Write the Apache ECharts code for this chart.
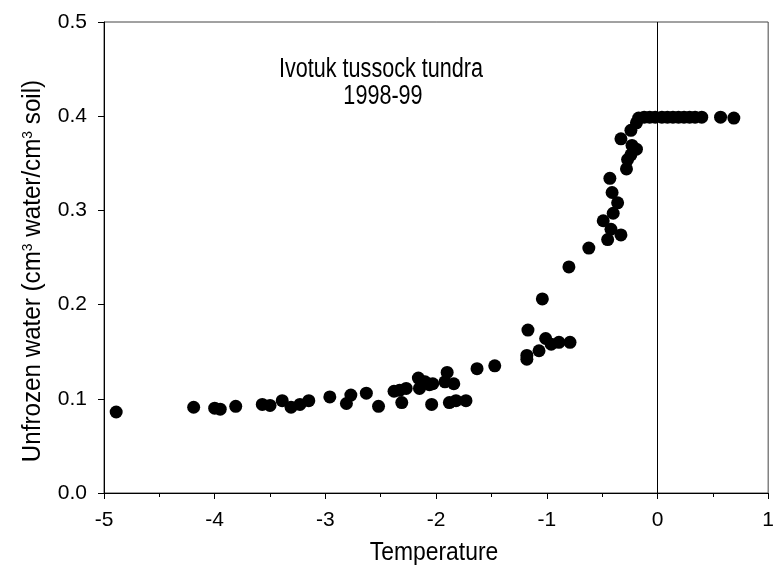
<!DOCTYPE html>
<html>
<head>
<meta charset="utf-8">
<script src="https://cdn.jsdelivr.net/npm/echarts@6/dist/echarts.min.js"></script>
<style>html,body{margin:0;padding:0;background:#fff}#chart{width:777px;height:571px}</style>
</head>
<body>
<div id="chart"></div>
<script>
// Soil temperature (°C)
const temperature = [
  -4.89, -4.19, -4.00, -3.95, -3.81, -3.57, -3.50, -3.39, -3.31, -3.23,
  -3.15, -2.96, -2.81, -2.77, -2.63, -2.52, -2.38, -2.33, -2.27, -2.31,
  -2.16, -2.15, -2.10, -2.06, -2.03, -2.04, -1.90, -1.92, -1.84, -1.88,
  -1.82, -1.73, -1.63, -1.47, -1.18, -1.18, -1.17, -1.07, -1.04, -1.01,
  -0.96, -0.89, -0.79, -0.80, -0.62, -0.49, -0.45, -0.42, -0.33, -0.40,
  -0.36, -0.41, -0.43, -0.28, -0.27, -0.24, -0.19, -0.23, -0.33, -0.24,
  -0.19, -0.17, -0.12, -0.07, -0.02, 0.04, 0.09, 0.14, 0.19, 0.24,
  0.29, 0.34, 0.40, 0.57, 0.69
];
// Unfrozen water (cm3 water / cm3 soil)
const unfrozenWater = [
  0.086, 0.091, 0.090, 0.089, 0.092, 0.094, 0.093, 0.098, 0.091, 0.094,
  0.098, 0.102, 0.095, 0.104, 0.106, 0.092, 0.108, 0.109, 0.111, 0.096,
  0.122, 0.111, 0.118, 0.115, 0.116, 0.094, 0.128, 0.118, 0.116, 0.096,
  0.098, 0.098, 0.132, 0.135, 0.146, 0.142, 0.173, 0.151, 0.206, 0.164,
  0.158, 0.160, 0.160, 0.240, 0.260, 0.289, 0.269, 0.280, 0.274, 0.297,
  0.308, 0.319, 0.334, 0.344, 0.354, 0.359, 0.365, 0.369, 0.376, 0.385,
  0.393, 0.398, 0.399, 0.399, 0.399, 0.399, 0.399, 0.399, 0.399, 0.399,
  0.399, 0.399, 0.399, 0.399, 0.398
];
const titleLines = ['Ivotuk tussock tundra', '1998-99'];
const xName = 'Temperature';
const yNameRich = 'Unfrozen water (cm{sup|3} water/cm{sup|3} soil)';

const FONT = '"Liberation Sans", Arial, Helvetica, sans-serif';
const points = temperature.map((t, i) => [t, unfrozenWater[i]]);

const chart = echarts.init(document.getElementById('chart'), null, {renderer: 'canvas'});
chart.setOption({
  animation: false,
  backgroundColor: '#fff',
  grid: {left: 104, right: 2, top: 22, bottom: 78, show: true, borderColor: '#444', borderWidth: 1, backgroundColor: 'transparent'},
  xAxis: {
    type: 'value', min: -5, max: 1, interval: 1,
    axisLine: {onZero: false, lineStyle: {color: '#000', width: 1}},
    axisTick: {show: true, inside: false, length: 6, lineStyle: {color: '#000'}},
    minorTick: {show: true, splitNumber: 2, length: 4, lineStyle: {color: '#000'}},
    splitLine: {show: false},
    axisLabel: {fontFamily: FONT, fontSize: 21, color: '#000', margin: 17},
  },
  yAxis: {
    type: 'value', min: 0, max: 0.5, interval: 0.1,
    axisLine: {onZero: false, lineStyle: {color: '#000', width: 1}},
    axisTick: {show: true, inside: false, length: 6, lineStyle: {color: '#000'}},
    splitLine: {show: false},
    axisLabel: {fontFamily: FONT, fontSize: 21, color: '#000', margin: 17, formatter: v => v.toFixed(1)},
  },
  graphic: [
    {type: 'text', x: 381, y: 70, scaleX: 0.8,
      style: {text: titleLines[0], font: '27px ' + FONT, fill: '#000', align: 'center', verticalAlign: 'middle'}},
    {type: 'text', x: 383, y: 97, scaleX: 0.8,
      style: {text: titleLines[1], font: '27px ' + FONT, fill: '#000', align: 'center', verticalAlign: 'middle'}},
    {type: 'text', x: 434, y: 553, scaleX: 0.88,
      style: {text: xName, font: '26px ' + FONT, fill: '#000', align: 'center', verticalAlign: 'middle'}},
    {type: 'text', x: 33, y: 271, rotation: Math.PI / 2, scaleX: 0.93,
      style: {
        text: yNameRich,
        fontFamily: FONT, fontSize: 26, fill: '#000', align: 'center', verticalAlign: 'middle',
        rich: {sup: {fontFamily: FONT, fontSize: 15, verticalAlign: 'top', fill: '#000'}}
      }}
  ],
  series: [{
    type: 'scatter',
    data: points,
    symbol: 'circle', symbolSize: 13,
    itemStyle: {color: '#000', opacity: 1},
    markLine: {
      silent: true, symbol: ['none', 'none'], label: {show: false},
      lineStyle: {color: '#000', width: 1, type: 'solid'},
      data: [{xAxis: 0}]
    }
  }]
});
</script>
</body>
</html>
